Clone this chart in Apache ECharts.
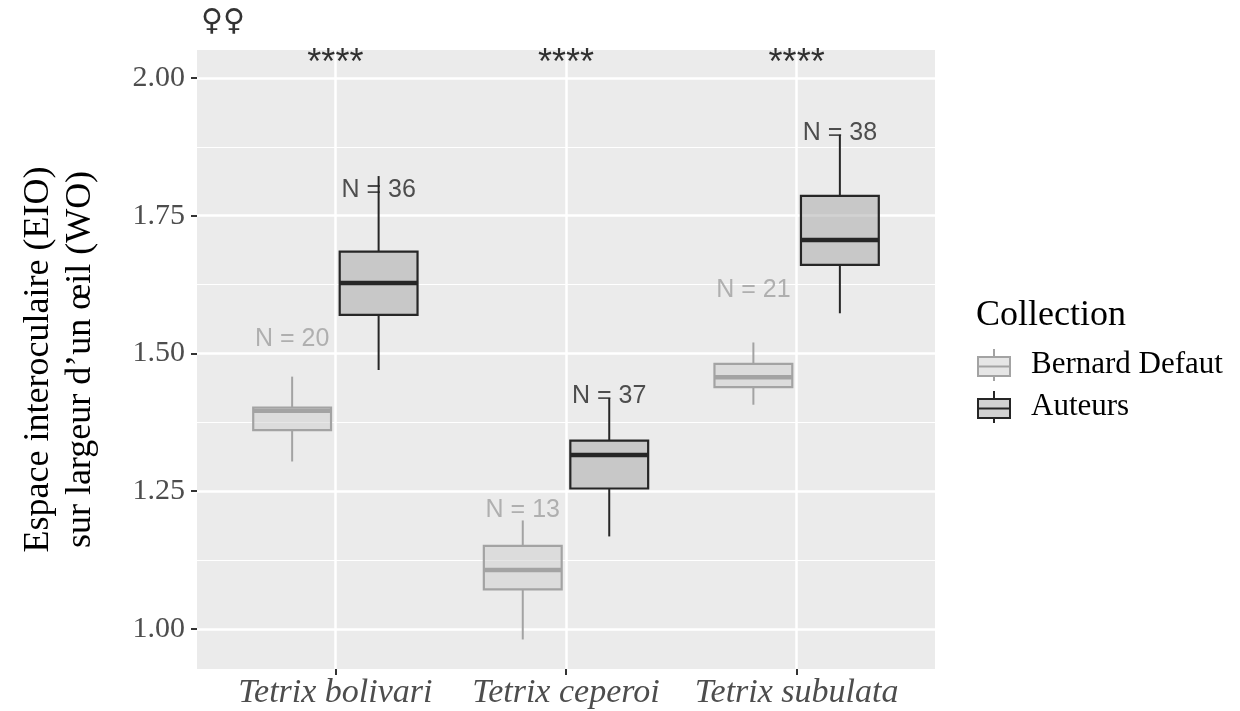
<!DOCTYPE html>
<html><head><meta charset="utf-8">
<script src="https://cdn.jsdelivr.net/npm/echarts@6/dist/echarts.min.js"></script>
<style>html,body{margin:0;padding:0;background:#fff}#c{width:1240px;height:711px}</style>
</head><body><div id="c"></div>
<script>
const categories = ['Tetrix bolivari', 'Tetrix ceperoi', 'Tetrix subulata'];
const groups = ['Bernard Defaut', 'Auteurs'];
// [lower whisker, Q1, median, Q3, upper whisker]
const bernardStats = [
  [1.304, 1.361, 1.396, 1.402, 1.458],
  [0.981, 1.072, 1.107, 1.151, 1.197],
  [1.407, 1.439, 1.457, 1.481, 1.520]
];
const auteursStats = [
  [1.470, 1.570, 1.628, 1.685, 1.822],
  [1.168, 1.255, 1.316, 1.342, 1.419],
  [1.573, 1.661, 1.706, 1.786, 1.897]
];
const bernardN = [20, 13, 21];
const auteursN = [36, 37, 38];
const bernardLabelY = [1.526, 1.216, 1.615];
const auteursLabelY = [1.797, 1.422, 1.900];
const signifLabels = ['****', '****', '****'];
const signifY = [2.0245, 2.0245, 2.0245];
const yTicks = [1.00, 1.25, 1.50, 1.75, 2.00];
const yMinor = [1.125, 1.375, 1.625, 1.875];
const yMin = 0.9274, yMax = 2.0508;

const DODGE = 0.1875, BOX_W = 0.3375;
const styleB = {stroke: '#a3a3a3', fill: 'rgba(205,205,205,0.5)', label: '#a0a0a0'};
const styleA = {stroke: '#262626', fill: 'rgba(165,165,165,0.5)', label: '#262626'};

function boxRender(offset, st) {
  return function (params, api) {
    const x = api.value(0) + offset;
    const lo = api.coord([x, api.value(1)]);
    const q1 = api.coord([x, api.value(2)]);
    const med = api.coord([x, api.value(3)]);
    const q3 = api.coord([x, api.value(4)]);
    const hi = api.coord([x, api.value(5)]);
    const w = api.size([BOX_W, 0])[0];
    const cx = lo[0];
    return {type: 'group', children: [
      {type: 'line', shape: {x1: cx, y1: hi[1], x2: cx, y2: q3[1]}, style: {stroke: st.stroke, lineWidth: 2}},
      {type: 'line', shape: {x1: cx, y1: q1[1], x2: cx, y2: lo[1]}, style: {stroke: st.stroke, lineWidth: 2}},
      {type: 'rect', shape: {x: cx - w / 2, y: q3[1], width: w, height: q1[1] - q3[1]}, style: {fill: st.fill, stroke: st.stroke, lineWidth: 2.2}},
      {type: 'line', shape: {x1: cx - w / 2, y1: med[1], x2: cx + w / 2, y2: med[1]}, style: {stroke: st.stroke, lineWidth: 4.5}}
    ]};
  };
}

const iconPath = 'path://M16,0 V8 M0,8 H32 V27 H0 Z M0,17.5 H32 M16,27 V32';

function labelSeries(xs, ys, texts, color, font, size, weight) {
  return {
    type: 'scatter', symbolSize: 1, silent: true, z: 5,
    itemStyle: {color: 'transparent'},
    data: xs.map((x, i) => ({value: [x, ys[i]], name: texts[i]})),
    label: {show: true, position: 'inside', formatter: '{b}', color: color,
      fontFamily: font, fontSize: size, fontWeight: weight || 'normal'}
  };
}

const catX = categories.map((c, i) => i + 1);

const option = {
  animation: false,
  backgroundColor: '#ffffff',
  title: [
    {text: '\u2640\u2640', left: 196, top: 2, textStyle: {fontFamily: 'DejaVu Sans', fontSize: 30, fontWeight: 'normal', color: '#333'}},
    {text: 'Collection', left: 971, top: 293, textStyle: {fontFamily: 'Liberation Serif', fontSize: 36, fontWeight: 'normal', color: '#000'}}
  ],
  grid: {left: 197, right: 305, top: 50, bottom: 42, show: true, backgroundColor: '#ebebeb', borderWidth: 0, containLabel: false},
  legend: {
    orient: 'vertical', left: 977, top: 348, itemWidth: 32, itemHeight: 32, itemGap: 8, padding: 0,
    selectedMode: false,
    textStyle: {fontFamily: 'Liberation Serif', fontSize: 31, color: '#000', padding: [0, 0, 0, 16]},
    data: [
      {name: groups[0], icon: iconPath, itemStyle: {color: styleB.fill, borderColor: styleB.stroke, borderWidth: 2}},
      {name: groups[1], icon: iconPath, itemStyle: {color: styleA.fill, borderColor: styleA.stroke, borderWidth: 2}}
    ]
  },
  xAxis: {
    type: 'value', min: 0.4, max: 3.6,
    axisLine: {show: false},
    axisTick: {show: true, customValues: catX, length: 6, lineStyle: {color: '#333', width: 2}},
    axisLabel: {customValues: catX, formatter: v => categories[Math.round(v) - 1] || '', margin: 7,
      fontFamily: 'Liberation Serif', fontStyle: 'italic', fontSize: 34, color: '#4d4d4d'},
    splitLine: {show: true, lineStyle: {color: '#ffffff', width: 2.5}}
  },
  yAxis: [
    {
      type: 'value', min: yMin, max: yMax,
      name: 'Espace interoculaire (EIO)\nsur largeur d\u2019un \u0153il (WO)',
      nameLocation: 'middle', nameGap: 95, nameRotate: 90,
      nameTextStyle: {fontFamily: 'Liberation Serif', fontSize: 36, color: '#000', lineHeight: 42},
      axisLine: {show: false},
      axisTick: {show: true, customValues: yTicks, length: 6, lineStyle: {color: '#333', width: 2}},
      axisLabel: {customValues: yTicks, formatter: v => v.toFixed(2), margin: 12,
        fontFamily: 'Liberation Serif', fontSize: 30, color: '#4d4d4d'},
      splitLine: {show: true, lineStyle: {color: '#ffffff', width: 2.5}}
    },
    {
      type: 'value', min: yMin, max: yMax,
      axisLine: {show: false}, axisLabel: {show: false},
      axisTick: {show: false, customValues: yMinor},
      splitLine: {show: true, lineStyle: {color: '#ffffff', width: 1.2}}
    }
  ],
  series: [
    {name: groups[0], type: 'custom', renderItem: boxRender(-DODGE, styleB), z: 3,
      itemStyle: {color: styleB.fill, borderColor: styleB.stroke},
      encode: {x: 0, y: [1, 2, 3, 4, 5]},
      data: bernardStats.map((s, i) => [catX[i]].concat(s))},
    {name: groups[1], type: 'custom', renderItem: boxRender(DODGE, styleA), z: 3,
      itemStyle: {color: styleA.fill, borderColor: styleA.stroke},
      encode: {x: 0, y: [1, 2, 3, 4, 5]},
      data: auteursStats.map((s, i) => [catX[i]].concat(s))},
    labelSeries(catX.map(x => x - DODGE), bernardLabelY, bernardN.map(n => 'N = ' + n), styleB.label, 'Liberation Sans', 25),
    labelSeries(catX.map(x => x + DODGE), auteursLabelY, auteursN.map(n => 'N = ' + n), styleA.label, 'Liberation Sans', 25),
    labelSeries(catX, signifY, signifLabels, '#000', 'Liberation Sans', 36)
  ]
};

const chart = echarts.init(document.getElementById('c'), null, {renderer: 'canvas'});
chart.setOption(option);
</script>
</body></html>
